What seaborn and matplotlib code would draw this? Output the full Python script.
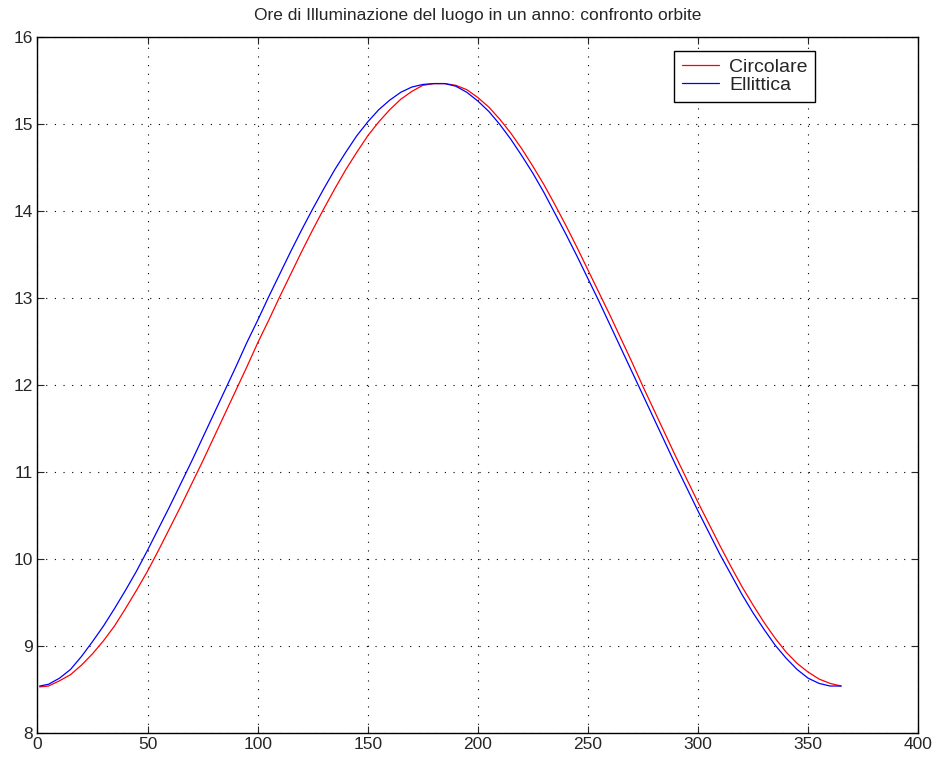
import pandas as pd
import seaborn as sns
import matplotlib
matplotlib.use('Agg')
import matplotlib.pyplot as plt

# Giorni dell'anno (campionati ogni 5 giorni, piu' il picco)
giorni = [1, 5, 10, 15, 20, 25, 30, 35, 40, 45, 50, 55, 60, 65, 70, 75, 80, 85, 90, 95,
          100, 105, 110, 115, 120, 125, 130, 135, 140, 145, 150, 155, 160, 165, 170, 175, 180, 183,
          185, 190, 195, 200, 205, 210, 215, 220, 225, 230, 235, 240, 245, 250, 255, 260, 265, 270,
          275, 280, 285, 290, 295, 300, 305, 310, 315, 320, 325, 330, 335, 340, 345, 350, 355, 360, 365]

# Ore di illuminazione - orbita circolare
ore_circolare = [8.53, 8.54, 8.60, 8.67, 8.78, 8.91, 9.06, 9.23, 9.43, 9.64,
                 9.86, 10.10, 10.35, 10.60, 10.86, 11.12, 11.39, 11.66, 11.93, 12.20,
                 12.48, 12.74, 13.01, 13.27, 13.53, 13.78, 14.02, 14.25, 14.47, 14.67,
                 14.86, 15.02, 15.16, 15.28, 15.37, 15.44, 15.46, 15.46,
                 15.46, 15.44, 15.39, 15.30, 15.19, 15.05, 14.89, 14.71, 14.51, 14.30,
                 14.07, 13.83, 13.58, 13.32, 13.06, 12.80, 12.53, 12.26, 11.98, 11.71,
                 11.44, 11.17, 10.91, 10.65, 10.40, 10.15, 9.91, 9.68, 9.47, 9.27,
                 9.09, 8.93, 8.80, 8.70, 8.62, 8.57, 8.54]

# Ore di illuminazione - orbita ellittica
ore_ellittica = [8.54, 8.56, 8.63, 8.73, 8.88, 9.05, 9.23, 9.43, 9.64, 9.86,
                 10.10, 10.35, 10.60, 10.86, 11.12, 11.39, 11.66, 11.93, 12.20, 12.48,
                 12.74, 13.01, 13.27, 13.53, 13.78, 14.02, 14.25, 14.47, 14.67, 14.86,
                 15.02, 15.16, 15.27, 15.36, 15.42, 15.45, 15.46, 15.46,
                 15.46, 15.43, 15.36, 15.26, 15.14, 14.99, 14.82, 14.63, 14.43, 14.21,
                 13.97, 13.73, 13.48, 13.22, 12.96, 12.69, 12.42, 12.15, 11.88, 11.61,
                 11.34, 11.07, 10.81, 10.55, 10.30, 10.05, 9.82, 9.59, 9.38, 9.19,
                 9.01, 8.86, 8.73, 8.63, 8.57, 8.54, 8.54]

df = pd.concat([
    pd.DataFrame({'giorno': giorni, 'ore': ore_circolare, 'orbita': 'Circolare'}),
    pd.DataFrame({'giorno': giorni, 'ore': ore_ellittica, 'orbita': 'Ellittica'}),
])

sns.set_style('white')
plt.rcParams['font.family'] = ['Liberation Sans', 'DejaVu Sans']

fig = plt.figure(figsize=(9.36, 7.62), dpi=100)
ax = fig.add_axes([0.040, 0.038, 0.941, 0.914])

sns.lineplot(data=df, x='giorno', y='ore', hue='orbita',
             palette={'Circolare': '#ff0000', 'Ellittica': '#0000ff'},
             linewidth=0.9, sort=False, ax=ax)

ax.set_xlim(0, 400)
ax.set_ylim(8, 16)
ax.set_xticks(range(0, 401, 50))
ax.set_yticks(range(8, 17))
ax.set_xlabel('')
ax.set_ylabel('')
ax.set_title('Ore di Illuminazione del luogo in un anno: confronto orbite', fontsize=12.5, pad=12)

ax.grid(True, color='black', linestyle=(0, (1, 6.8)), linewidth=0.8)
ax.tick_params(direction='in', length=5, width=0.8, labelsize=12.5,
               top=True, right=True, bottom=True, left=True, pad=3)
for s in ax.spines.values():
    s.set_color('black')
    s.set_linewidth(1.0)

handles, labels = ax.get_legend_handles_labels()
leg = ax.legend(handles, labels, loc='upper right', bbox_to_anchor=(0.883, 0.980),
                fontsize=14, frameon=True, fancybox=False, framealpha=1,
                edgecolor='black', handlelength=1.9, borderpad=0.4, labelspacing=0.02,
                handletextpad=0.5, borderaxespad=0)
leg.get_frame().set_linewidth(1.0)

plt.savefig('out.png', dpi=100)
